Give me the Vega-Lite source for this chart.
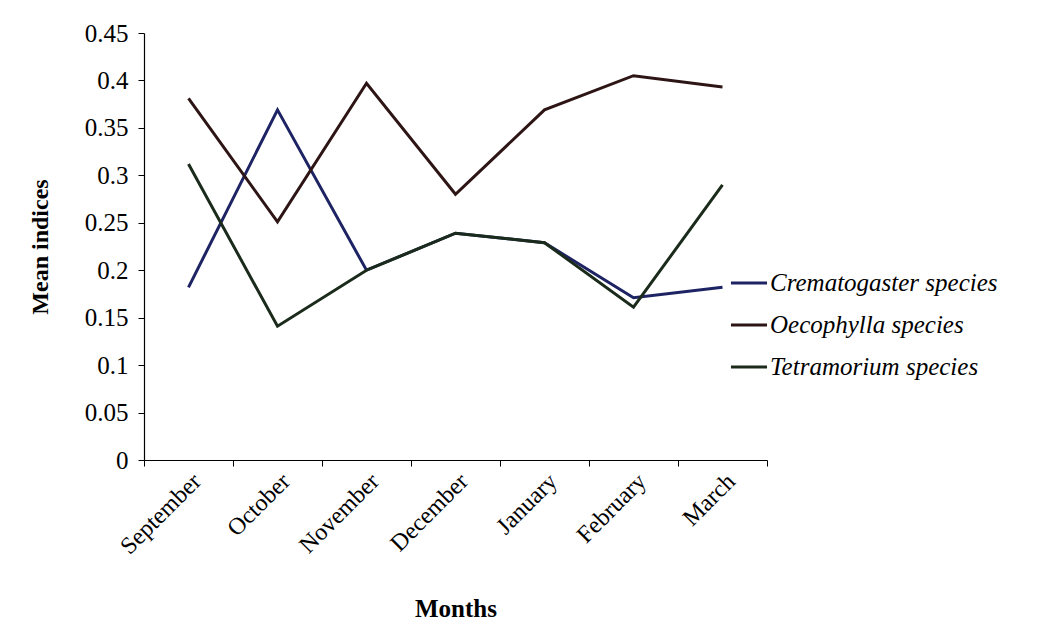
{
  "$schema": "https://vega.github.io/schema/vega-lite/v6.json",
  "width": 623,
  "height": 427,
  "autosize": {"type": "none"},
  "padding": {"left": 144, "top": 33, "right": 274, "bottom": 172},
  "background": "white",
  "config": {
    "view": {"stroke": null},
    "font": "Liberation Serif"
  },
  "data": {
    "values": [
      {"month": "September", "species": "Crematogaster species", "value": 0.182},
      {"month": "October", "species": "Crematogaster species", "value": 0.369},
      {"month": "November", "species": "Crematogaster species", "value": 0.2},
      {"month": "December", "species": "Crematogaster species", "value": 0.239},
      {"month": "January", "species": "Crematogaster species", "value": 0.229},
      {"month": "February", "species": "Crematogaster species", "value": 0.171},
      {"month": "March", "species": "Crematogaster species", "value": 0.182},
      {"month": "September", "species": "Oecophylla species", "value": 0.381},
      {"month": "October", "species": "Oecophylla species", "value": 0.251},
      {"month": "November", "species": "Oecophylla species", "value": 0.397},
      {"month": "December", "species": "Oecophylla species", "value": 0.28},
      {"month": "January", "species": "Oecophylla species", "value": 0.369},
      {"month": "February", "species": "Oecophylla species", "value": 0.405},
      {"month": "March", "species": "Oecophylla species", "value": 0.393},
      {"month": "September", "species": "Tetramorium species", "value": 0.312},
      {"month": "October", "species": "Tetramorium species", "value": 0.141},
      {"month": "November", "species": "Tetramorium species", "value": 0.2},
      {"month": "December", "species": "Tetramorium species", "value": 0.239},
      {"month": "January", "species": "Tetramorium species", "value": 0.229},
      {"month": "February", "species": "Tetramorium species", "value": 0.161},
      {"month": "March", "species": "Tetramorium species", "value": 0.29}
    ]
  },
  "mark": {"type": "line", "strokeWidth": 3},
  "encoding": {
    "x": {
      "field": "month",
      "type": "nominal",
      "sort": ["September", "October", "November", "December", "January", "February", "March"],
      "scale": {"type": "band", "paddingInner": 0, "paddingOuter": 0},
      "axis": {
        "title": "Months",
        "titleFont": "Liberation Serif",
        "titleFontSize": 25,
        "titleFontWeight": "bold",
        "titleColor": "black",
        "titlePadding": 38,
        "labelAngle": -45,
        "labelFont": "Liberation Serif",
        "labelFontSize": 24,
        "labelColor": "black",
        "labelPadding": 3,
        "tickBand": "extent",
        "tickSize": 6,
        "tickColor": "black",
        "domainColor": "black",
        "domainWidth": 1.2,
        "grid": false
      }
    },
    "y": {
      "field": "value",
      "type": "quantitative",
      "scale": {"domain": [0, 0.45], "nice": false},
      "axis": {
        "title": "Mean indices",
        "titleFont": "Liberation Serif",
        "titleFontSize": 24,
        "titleFontWeight": "bold",
        "titleColor": "black",
        "titlePadding": 32,
        "values": [0, 0.05, 0.1, 0.15, 0.2, 0.25, 0.3, 0.35, 0.4, 0.45],
        "format": ".2~f",
        "labelFont": "Liberation Serif",
        "labelFontSize": 25,
        "labelColor": "black",
        "labelPadding": 10,
        "tickSize": 6,
        "tickColor": "black",
        "domainColor": "black",
        "domainWidth": 1.2,
        "grid": false
      }
    },
    "color": {
      "field": "species",
      "type": "nominal",
      "scale": {
        "domain": ["Crematogaster species", "Oecophylla species", "Tetramorium species"],
        "range": ["#1d2363", "#2e1515", "#1b2b1b"]
      },
      "legend": {
        "title": null,
        "orient": "none",
        "legendX": 585,
        "legendY": 230,
        "symbolType": "stroke",
        "symbolSize": 1300,
        "symbolStrokeWidth": 3,
        "labelFont": "Liberation Serif",
        "labelFontStyle": "italic",
        "labelFontSize": 25,
        "labelColor": "black",
        "labelOffset": 1,
        "rowPadding": 9,
        "labelLimit": 400
      }
    }
  }
}
